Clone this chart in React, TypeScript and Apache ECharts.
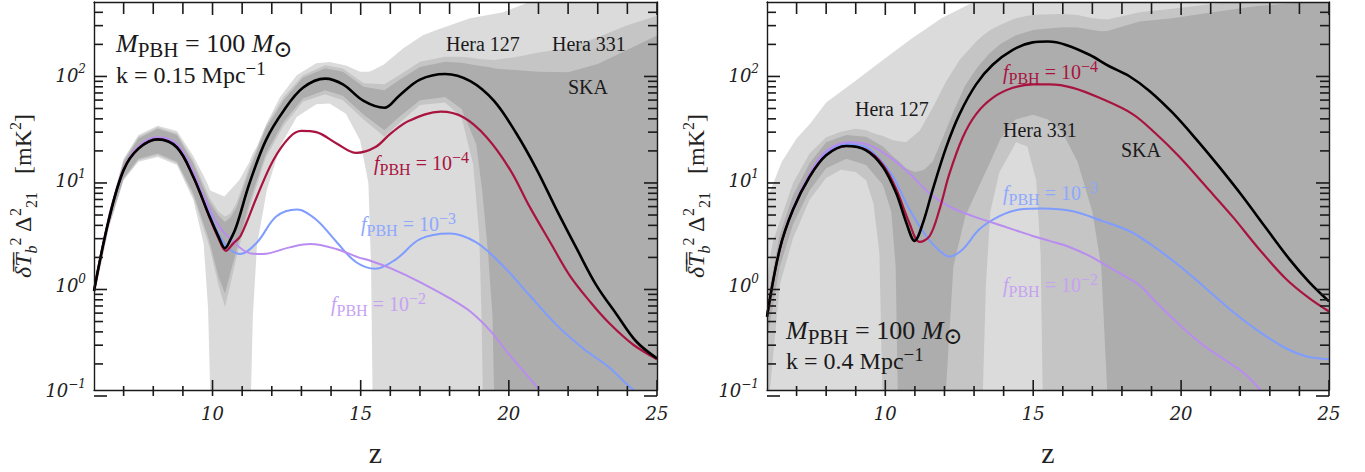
import { useEffect, useRef } from "react";
import * as echarts from "echarts";

// ---- axis ranges and ticks ----
const Z_MIN = 6;
const Z_MAX = 25;
const Y_MIN = 0.1;
const Y_MAX = 500;

const zMajorTicks = [10, 15, 20, 25];
const zMinorTicks = [7, 8, 9, 11, 12, 13, 14, 16, 17, 18, 19, 21, 22, 23, 24];
const yMajorTicks = [0.1, 1, 10, 100];
const yMinorTicks = [
  0.2, 0.3, 0.4, 0.5, 0.6, 0.7, 0.8, 0.9,
  2, 3, 4, 5, 6, 7, 8, 9,
  20, 30, 40, 50, 60, 70, 80, 90,
  200, 300, 400,
];

// ---- k = 0.15 Mpc^-1 : power spectra [z, value] ----
const leftNoPbh: [number, number][] = [
  [6.0, 0.88], [6.5, 4.2], [7.0, 12.5], [7.5, 20], [8.15, 24.5], [8.8, 20.5], [9.35, 10.8],
  [9.9, 4.5], [10.2, 2.9], [10.42, 2.25], [10.6, 2.7], [10.8, 3.6], [11.25, 9.4], [11.8, 24],
  [12.4, 46], [13.05, 76], [13.8, 93], [14.4, 82], [15.1, 57], [15.8, 49], [16.3, 64], [17.0, 91],
  [17.85, 103], [18.7, 88], [19.5, 57], [20.25, 28], [20.95, 12.5], [21.6, 5.3], [22.3, 2.2],
  [22.95, 1.0], [23.65, 0.52], [24.3, 0.29], [25.0, 0.2],
];
const leftF4: [number, number][] = [
  [6.0, 0.88], [6.5, 4.2], [7.0, 12.5], [7.5, 20], [8.15, 24.5], [8.8, 20.5], [9.35, 10.8],
  [9.9, 4.4], [10.2, 2.8], [10.45, 2.12], [10.7, 2.5], [10.95, 2.95], [11.5, 7.0], [12.05, 15.5],
  [12.6, 25.7], [13.0, 29.5], [13.5, 28.7], [14.2, 22.3], [14.85, 18.2], [15.5, 20.7], [16.0, 27.7],
  [16.65, 37], [17.7, 45], [18.45, 40], [19.25, 25.7], [20.05, 12.5], [20.7, 5.6], [21.4, 2.55],
  [22.05, 1.24], [22.75, 0.69], [23.4, 0.43], [24.2, 0.27], [25.0, 0.196],
];
const leftF3: [number, number][] = [
  [6.0, 0.88], [6.5, 4.2], [7.0, 12.5], [7.5, 20.5], [8.15, 25], [8.8, 21], [9.35, 11.5],
  [9.6, 7.6], [10.15, 3.3], [10.5, 2.3], [10.93, 1.98], [11.5, 2.55], [12.15, 4.5], [12.85, 5.25],
  [13.5, 4.2], [14.2, 2.55], [14.85, 1.65], [15.5, 1.43], [16.2, 1.77], [17.0, 2.74], [18.0, 3.1],
  [18.9, 2.55], [19.8, 1.53], [20.7, 0.8], [21.6, 0.42], [22.5, 0.25], [23.4, 0.163], [24.0, 0.112],
  [24.3, 0.095],
];
const leftF2: [number, number][] = [
  [6.0, 0.88], [6.5, 4.3], [7.0, 12.8], [7.5, 21], [8.15, 25.7], [8.8, 22], [9.35, 12],
  [9.6, 8.1], [10.15, 3.9], [10.6, 2.75], [11.3, 2.0], [11.7, 1.98], [12.6, 2.29], [13.3, 2.46],
  [14.2, 2.2], [14.9, 1.85], [15.35, 1.7], [16.0, 1.45], [17.0, 1.07], [18.0, 0.75], [18.7, 0.56],
  [19.4, 0.36], [20.0, 0.22], [20.7, 0.13], [21.1, 0.095],
];

// ---- k = 0.15 Mpc^-1 : sensitivity bands [z, lower, upper] (0 = reaches zero) ----
const leftHera127: [number, number, number][] = [
  [6.0, 0.75, 1.08], [6.5, 3.5, 5.0], [7.0, 10, 16], [7.5, 15, 27], [8.15, 16.6, 33], [8.8, 14, 29.5],
  [9.35, 6.5, 17], [9.7, 2.5, 11], [9.85, 0.6, 9], [9.92, 0, 8], [10.4, 0, 7.0], [10.9, 0, 10],
  [11.25, 0, 15], [11.3, 0, 16.5], [11.36, 0.5, 18], [11.5, 2.4, 21], [11.83, 8, 35], [12.28, 21, 62],
  [12.84, 40, 100], [13.5, 53, 130], [13.95, 54, 134], [14.5, 43, 124], [14.98, 24, 108],
  [15.26, 9.4, 108], [15.35, 1.5, 110], [15.4, 0, 112], [15.77, 0, 126], [16.44, 0, 181],
  [17.1, 0, 241], [17.56, 0, 270], [18.69, 0, 350], [19.81, 0, 400], [20.7, 0, 500], [21.0, 0, 560],
  [25.0, 0, 600],
];
const leftHera331: [number, number, number][] = [
  [6.0, 0.78, 1.03], [6.5, 3.6, 4.9], [7.0, 10.2, 15.5], [7.5, 15.5, 26], [8.15, 17.3, 32],
  [8.8, 14.5, 28], [9.35, 7, 15.5], [9.9, 2.3, 6.8], [10.2, 1.0, 5.0], [10.42, 0.62, 4.5],
  [10.6, 1.0, 4.8], [10.8, 1.8, 6.0], [11.25, 5.5, 13.5], [11.8, 16.5, 33], [12.4, 33, 62],
  [13.05, 56, 100], [13.8, 66, 125], [14.4, 58, 116], [15.1, 38, 84], [15.8, 26, 82], [16.3, 35, 100],
  [17.0, 52, 135], [17.85, 55, 150], [18.4, 40, 150], [18.8, 14, 146], [19.0, 3, 143],
  [19.08, 0.5, 142], [19.12, 0, 142], [19.5, 0, 140], [20.3, 0, 150], [21.0, 0, 165], [22.0, 0, 182],
  [23.0, 0, 230], [24.0, 0, 300], [25.0, 0, 370],
];
const leftSka: [number, number, number][] = [
  [6.0, 0.8, 1.0], [6.5, 3.7, 4.8], [7.0, 10.5, 15], [7.5, 16, 25], [8.15, 18, 31], [8.8, 15, 27],
  [9.35, 7.5, 14.5], [9.9, 2.6, 6.2], [10.2, 1.2, 4.6], [10.42, 0.83, 4.0], [10.6, 1.3, 4.4],
  [10.8, 2.1, 5.4], [11.25, 6.2, 12.5], [11.8, 18, 31], [12.4, 36, 58], [13.05, 60, 95],
  [13.8, 72, 117], [14.4, 64, 108], [15.1, 42, 78], [15.8, 30, 72], [16.3, 40, 90], [17.0, 58, 120],
  [17.85, 62, 135], [18.4, 48, 132], [18.9, 22, 125], [19.1, 8, 122], [19.3, 2, 120],
  [19.45, 0.5, 118], [19.5, 0, 116], [20.3, 0, 112], [21.0, 0, 108], [22.0, 0, 107], [23.0, 0, 128],
  [24.0, 0, 175], [25.0, 0, 240],
];

// ---- k = 0.4 Mpc^-1 : power spectra [z, value] ----
const rightNoPbh: [number, number][] = [
  [6.0, 0.5], [6.43, 2.2], [6.88, 5.25], [7.44, 10.8], [8.0, 17.3], [8.68, 21.2], [9.35, 19.3],
  [9.92, 13.4], [10.37, 7.5], [10.71, 3.93], [10.99, 2.64], [11.27, 3.9], [11.6, 8.1], [12.06, 20.7],
  [12.51, 42.7], [13.07, 82], [13.63, 126], [14.31, 175], [14.98, 206], [15.5, 210], [16.11, 195],
  [16.9, 157], [17.57, 122], [18.25, 98], [18.93, 71], [19.71, 44], [20.5, 24.8], [21.29, 13.4],
  [22.08, 7.0], [22.87, 3.5], [23.66, 1.77], [24.33, 1.07], [25.0, 0.7],
];
const rightF4: [number, number][] = [
  [6.0, 0.5], [6.43, 2.2], [6.88, 5.25], [7.44, 10.8], [8.0, 17.3], [8.68, 21.2], [9.35, 19.5],
  [9.92, 14], [10.37, 8.2], [10.8, 4.0], [11.16, 2.58], [11.5, 2.94], [11.83, 5.25], [12.17, 11.6],
  [12.62, 25.7], [13.07, 42.7], [13.63, 61], [14.31, 76], [15.0, 82], [15.55, 82], [16.34, 76],
  [17.24, 61], [18.36, 42.7], [19.15, 27.7], [19.94, 16.7], [20.84, 8.7], [21.74, 4.5], [22.64, 2.2],
  [23.54, 1.15], [24.33, 0.75], [25.0, 0.56],
];
const rightF3: [number, number][] = [
  [6.0, 0.5], [6.43, 2.2], [6.88, 5.3], [7.44, 11], [8.0, 18], [8.68, 22.2], [9.35, 20.5],
  [9.8, 16], [10.26, 10.8], [10.82, 5.25], [11.38, 2.94], [11.83, 2.13], [12.17, 1.87], [12.62, 2.2],
  [13.18, 3.4], [13.86, 4.54], [14.53, 5.25], [15.3, 5.37], [16.34, 5.06], [17.35, 4.07],
  [18.25, 3.28], [19.04, 2.37], [19.94, 1.53], [20.84, 0.93], [21.74, 0.56], [22.64, 0.36],
  [23.54, 0.25], [24.22, 0.21], [25.0, 0.196],
];
const rightF2: [number, number][] = [
  [6.0, 0.5], [6.43, 2.2], [6.88, 5.4], [7.44, 11.5], [8.0, 19], [8.8, 23], [9.47, 21.5],
  [10.14, 16.7], [10.82, 11.6], [11.49, 7.5], [12.17, 5.6], [12.96, 4.54], [13.63, 3.93],
  [14.31, 3.4], [14.98, 2.94], [15.55, 2.64], [16.11, 2.37], [16.9, 1.9], [17.57, 1.48],
  [18.25, 1.15], [18.59, 1.0], [19.15, 0.69], [19.94, 0.42], [20.73, 0.27], [21.52, 0.19],
  [22.19, 0.14], [22.7, 0.098],
];

// ---- k = 0.4 Mpc^-1 : sensitivity bands [z, lower, upper] ----
const rightHera127: [number, number, number][] = [
  [6.0, 0, 6.6], [6.5, 0, 15], [7.0, 0, 25], [7.47, 0, 35], [8.0, 0, 55], [8.95, 0, 87],
  [9.84, 0, 135], [10.87, 0, 222], [11.9, 0, 350], [12.8, 0, 470], [13.1, 0, 540], [25.0, 0, 600],
];
const rightHera331: [number, number, number][] = [
  [6.0, 0, 1.0], [6.1, 0, 1.8], [6.2, 0.2, 2.6], [6.43, 1.0, 4], [6.88, 2.8, 9.4], [7.44, 6.5, 18],
  [8.0, 10.5, 25.7], [8.5, 12.6, 29], [9.0, 12, 31], [9.35, 10, 30], [9.6, 6, 28], [9.8, 2, 27],
  [9.9, 0, 26.5], [10.26, 0, 24], [10.7, 0, 23], [11.16, 0, 29.6], [11.6, 0, 49], [12.06, 0, 88],
  [12.51, 0, 140], [13.07, 0, 210], [13.3, 0, 240], [13.4, 1, 252], [13.55, 5, 270], [13.86, 12, 300],
  [14.3, 20, 340], [14.42, 23, 350], [14.8, 21, 370], [15.1, 10, 378], [15.25, 2, 380],
  [15.32, 0, 381], [16.0, 0, 385], [16.5, 0, 375], [17.0, 0, 350], [17.5, 0, 340], [18.6, 0, 400],
  [19.7, 0, 430], [20.84, 0, 470], [21.6, 0, 520], [25.0, 0, 600],
];
const rightSka: [number, number, number][] = [
  [6.0, 0.3, 0.7], [6.43, 1.5, 3.0], [6.88, 3.8, 7.2], [7.44, 8, 14.5], [8.0, 13, 23], [8.68, 16, 27],
  [9.35, 14, 26], [9.92, 9, 21], [10.2, 5, 17.5], [10.35, 1.5, 16], [10.42, 0, 15.5], [10.7, 0, 13],
  [11.0, 0, 12], [11.3, 0, 12.5], [11.6, 0, 15], [12.05, 0, 30], [12.3, 1.5, 45], [12.7, 4.5, 80],
  [13.1, 8, 118], [13.5, 14, 160], [13.9, 25, 200], [14.4, 38, 240], [15.0, 42, 270], [15.5, 38, 280],
  [16.0, 28, 288], [16.5, 15, 285], [17.0, 5, 270], [17.3, 1.5, 263], [17.5, 0, 265], [18.6, 0, 325],
  [19.7, 0, 350], [20.84, 0, 390], [22.5, 0, 455], [24.2, 0, 500], [25.0, 0, 520],
];

// ---- styling ----
const SERIF = "Liberation Serif";
const TICK_FONT = "DejaVu Serif";
const BAND_COLORS = { hera127: "#dbdbdb", hera331: "#c5c5c5", ska: "#adadad" };
const LINE_COLORS = { none: "#000000", f4: "#a8143f", f3: "#7f9cff", f2: "#b98cf0" };
const LABEL_COLORS = { f4: "#a8143f", f3: "#8ea8ff", f2: "#c6a2f3" };
const FRAME = "#1a1a1a";

const GRIDS = [
  { left: 94, top: 2, width: 563, height: 394 },
  { left: 767, top: 2, width: 562, height: 394 },
];

// tick lengths and thickness in pixels
const TICK_LEN = { xMajor: 16, xMinor: 10, xMajorTop: 13, xMinorTop: 12, yMajor: 13, yMinor: 9 };
const TICK_W = 1.6;

const clampY = (v: number) => Math.min(Y_MAX, Math.max(Y_MIN, v));

function bandSeries(band: [number, number, number][], color: string, gi: number) {
  return {
    type: "custom",
    xAxisIndex: gi * 2,
    yAxisIndex: gi * 2,
    clip: true,
    silent: true,
    z: 1,
    data: [[10, 1]],
    renderItem: (_params: any, api: any) => {
      const upper = band.map(([z, , hi]) => api.coord([z, clampY(hi)]));
      const lower = band
        .slice()
        .reverse()
        .map(([z, lo]) => api.coord([z, clampY(lo)]));
      return {
        type: "polygon",
        shape: { points: upper.concat(lower) },
        style: { fill: color, stroke: null },
      };
    },
  };
}

function lineSeries(name: string, data: [number, number][], color: string, width: number, gi: number) {
  return {
    name,
    type: "line",
    xAxisIndex: gi * 2,
    yAxisIndex: gi * 2,
    data,
    showSymbol: false,
    smooth: 0.35,
    clip: true,
    silent: true,
    z: 3,
    lineStyle: { color, width },
  };
}

// inward ticks on all four sides, positioned from each grid's box and axis ranges
function tickGraphics() {
  const out: any[] = [];
  const rect = (x: number, y: number, width: number, height: number) =>
    out.push({ type: "rect", z: 40, silent: true, shape: { x, y, width, height }, style: { fill: FRAME } });
  GRIDS.forEach((g) => {
    const xOf = (z: number) => g.left + ((z - Z_MIN) / (Z_MAX - Z_MIN)) * g.width;
    const yOf = (v: number) =>
      g.top + g.height - (Math.log10(v / Y_MIN) / Math.log10(Y_MAX / Y_MIN)) * g.height;
    const bottom = g.top + g.height;
    const right = g.left + g.width;
    const xTick = (z: number, lenB: number, lenT: number) => {
      const x = xOf(z) - TICK_W / 2;
      rect(x, bottom - lenB, TICK_W, lenB);
      rect(x, g.top, TICK_W, lenT);
    };
    const yTick = (v: number, len: number) => {
      const y = yOf(v) - TICK_W / 2;
      rect(g.left, y, len, TICK_W);
      rect(right - len, y, len, TICK_W);
    };
    zMinorTicks.forEach((z) => xTick(z, TICK_LEN.xMinor, TICK_LEN.xMinorTop));
    zMajorTicks.forEach((z) => xTick(z, TICK_LEN.xMajor, TICK_LEN.xMajorTop));
    yMinorTicks.forEach((v) => yTick(v, TICK_LEN.yMinor));
    yMajorTicks.forEach((v) => yTick(v, TICK_LEN.yMajor));
  });
  return out;
}

const tickLabelRich = {
  b: { fontFamily: TICK_FONT, fontStyle: "italic", fontSize: 18, color: "#222", lineHeight: 24 },
  e: { fontFamily: TICK_FONT, fontStyle: "italic", fontSize: 12, color: "#222", lineHeight: 12, verticalAlign: "top" },
};

const yNameRich = {
  d: { fontFamily: SERIF, fontSize: 24, color: "#222", lineHeight: 32 },
  i: { fontFamily: SERIF, fontStyle: "italic", fontSize: 24, color: "#222", lineHeight: 32 },
  s: { fontFamily: SERIF, fontStyle: "italic", fontSize: 16, color: "#222", lineHeight: 14, verticalAlign: "bottom" },
  sn: { fontFamily: SERIF, fontSize: 16, color: "#222", lineHeight: 14, verticalAlign: "bottom" },
  e: { fontFamily: SERIF, fontSize: 16, color: "#222", lineHeight: 14, verticalAlign: "top" },
};
const Y_NAME = "{i|δ\u0305T\u0305}{s|b}{e|2}{d| Δ}{e|2}{sn|21}{d|   [mK}{e|2}{d|]}";

const frameLine = { show: true, onZero: false, lineStyle: { color: FRAME, width: 1.4 } };

function axesFor(gi: number) {
  const x = [
    {
      gridIndex: gi,
      type: "value",
      min: Z_MIN,
      max: Z_MAX,
      position: "bottom",
      z: 10,
      axisLine: frameLine,
      axisTick: { show: false },
      splitLine: { show: false },
      axisLabel: {
        customValues: zMajorTicks,
        margin: 14,
        fontFamily: TICK_FONT,
        fontStyle: "italic",
        fontSize: 18,
        color: "#222",
        formatter: (v: number) => String(v),
      },
      name: "z",
      nameLocation: "middle",
      nameGap: 47,
      nameTextStyle: { fontFamily: SERIF, fontSize: 30, color: "#222" },
    },
    {
      gridIndex: gi,
      type: "value",
      min: Z_MIN,
      max: Z_MAX,
      position: "top",
      z: 10,
      axisLine: frameLine,
      axisTick: { show: false },
      splitLine: { show: false },
      axisLabel: { show: false },
    },
  ];
  const y = [
    {
      gridIndex: gi,
      type: "log",
      logBase: 10,
      min: Y_MIN,
      max: Y_MAX,
      position: "left",
      z: 10,
      axisLine: frameLine,
      axisTick: { show: false },
      splitLine: { show: false },
      axisLabel: {
        customValues: yMajorTicks,
        margin: 8,
        formatter: (v: number) => {
          const p = Math.round(Math.log10(v));
          return `{b|10}{e|${p < 0 ? "−" + -p : p}}`;
        },
        rich: tickLabelRich,
      },
      name: Y_NAME,
      nameLocation: "middle",
      nameRotate: 90,
      nameGap: 55,
      nameTextStyle: { rich: yNameRich },
    },
    {
      gridIndex: gi,
      type: "log",
      logBase: 10,
      min: Y_MIN,
      max: Y_MAX,
      position: "right",
      z: 10,
      axisLine: frameLine,
      axisTick: { show: false },
      splitLine: { show: false },
      axisLabel: { show: false },
    },
  ];
  return { x, y };
}

// ---- annotation texts ----
function richFor(color: string, size: number) {
  const sub = Math.round(size * 0.8);
  return {
    i: { fontFamily: SERIF, fontStyle: "italic", fontSize: size, fill: color, color, lineHeight: size + 8 },
    n: { fontFamily: SERIF, fontSize: size, fill: color, color, lineHeight: size + 8 },
    s: { fontFamily: SERIF, fontSize: sub, fill: color, color, lineHeight: sub, verticalAlign: "bottom" },
    e: { fontFamily: SERIF, fontSize: sub, fill: color, color, lineHeight: sub, verticalAlign: "top" },
    o: { fontFamily: "DejaVu Serif", fontSize: size - 3, fill: color, color, lineHeight: sub, verticalAlign: "bottom" },
  };
}

function label(text: string, x: number, y: number, color: string, size: number) {
  return {
    type: "text",
    x,
    y,
    z: 30,
    silent: true,
    style: { text, rich: richFor(color, size), fill: color, verticalAlign: "top", align: "left" },
  };
}

const fText = (exp: string) => `{i|f}{s|PBH}{n| = 10}{e|−${exp}}`;
const massText = "{i|M}{s|PBH}{n| = 100 }{i|M}{o|⊙}";
const INK = "#1a1a1a";

const annotations = [
  label(massText, 116, 26, INK, 26),
  label("{n|k = 0.15 Mpc}{e|−1}", 116, 59, INK, 24),
  label("{n|Hera 127}", 446, 30, INK, 20),
  label("{n|Hera 331}", 552, 30, INK, 20),
  label("{n|SKA}", 568, 73, INK, 20),
  label(fText("4"), 374, 149, LABEL_COLORS.f4, 20),
  label(fText("3"), 361, 210, LABEL_COLORS.f3, 20),
  label(fText("2"), 331, 290, LABEL_COLORS.f2, 20),

  label("{n|Hera 127}", 855, 95, INK, 20),
  label("{n|Hera 331}", 1003, 116, INK, 20),
  label("{n|SKA}", 1121, 136, INK, 20),
  label(fText("4"), 1003, 58, LABEL_COLORS.f4, 20),
  label(fText("3"), 1003, 179, LABEL_COLORS.f3, 20),
  label(fText("2"), 1003, 271, LABEL_COLORS.f2, 20),
  label(massText, 786, 313, INK, 26),
  label("{n|k = 0.4 Mpc}{e|−1}", 786, 345, INK, 24),
];

function buildOption() {
  const a0 = axesFor(0);
  const a1 = axesFor(1);
  const panels = [
    { bands: [leftHera127, leftHera331, leftSka], lines: [leftF3, leftF2, leftF4, leftNoPbh] },
    { bands: [rightHera127, rightHera331, rightSka], lines: [rightF3, rightF2, rightF4, rightNoPbh] },
  ];
  const series: any[] = [];
  panels.forEach((p, gi) => {
    series.push(bandSeries(p.bands[0], BAND_COLORS.hera127, gi));
    series.push(bandSeries(p.bands[1], BAND_COLORS.hera331, gi));
    series.push(bandSeries(p.bands[2], BAND_COLORS.ska, gi));
    series.push(lineSeries("fPBH 1e-3", p.lines[0], LINE_COLORS.f3, 2, gi));
    series.push(lineSeries("fPBH 1e-2", p.lines[1], LINE_COLORS.f2, 2, gi));
    series.push(lineSeries("fPBH 1e-4", p.lines[2], LINE_COLORS.f4, 2.2, gi));
    series.push(lineSeries("no PBH", p.lines[3], LINE_COLORS.none, 2.6, gi));
  });
  return {
    animation: false,
    backgroundColor: "#ffffff",
    textStyle: { fontFamily: SERIF },
    grid: GRIDS.map((g) => ({ ...g, containLabel: false, show: false })),
    xAxis: [...a0.x, ...a1.x],
    yAxis: [...a0.y, ...a1.y],
    series,
    graphic: [...annotations, ...tickGraphics()],
  };
}

export default function App() {
  const ref = useRef<HTMLDivElement>(null);
  useEffect(() => {
    if (!ref.current) return;
    const chart = echarts.init(ref.current, null, { renderer: "svg" });
    chart.setOption(buildOption() as any);
    return () => chart.dispose();
  }, []);
  return (
    <div
      ref={ref}
      style={{ position: "absolute", left: 0, top: 0, width: 1365, height: 472, background: "#fff" }}
    />
  );
}
